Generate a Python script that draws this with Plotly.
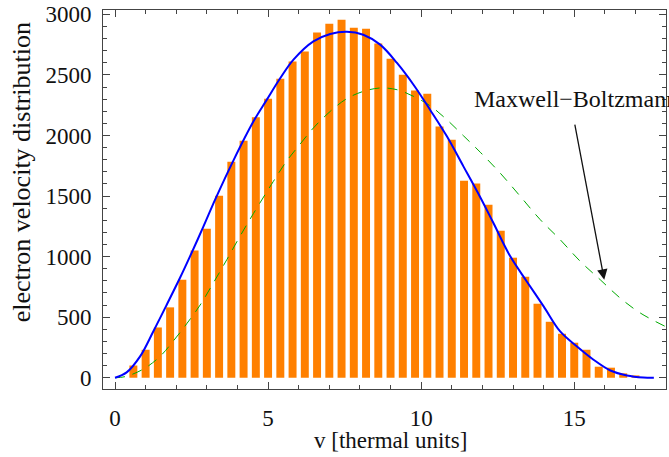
import plotly.graph_objects as go

# ---- data ----
bin_centers = [0.6, 1.0, 1.4, 1.8, 2.2, 2.6, 3.0, 3.4, 3.8, 4.2,
               4.6, 5.0, 5.4, 5.8, 6.2, 6.6, 7.0, 7.4, 7.8, 8.2,
               8.6, 9.0, 9.4, 9.8, 10.2, 10.6, 11.0, 11.4, 11.8, 12.2,
               12.6, 13.0, 13.4, 13.8, 14.2, 14.6, 15.0, 15.4, 15.8, 16.2,
               16.6, 17.0]
counts = [101, 231, 415, 581, 809, 1051, 1230, 1503, 1784, 1957,
          2150, 2304, 2469, 2610, 2694, 2851, 2923, 2956, 2890, 2882,
          2760, 2634, 2502, 2372, 2345, 2075, 1965, 1627, 1604, 1428,
          1214, 991, 834, 611, 462, 363, 289, 231, 91, 83,
          36, 19]

fit_v = [0, 0.38, 0.82, 1.25, 1.69, 2.12, 2.45, 2.89, 3.27, 3.87,
         4.52, 4.96, 5.39, 5.83, 6.48, 7.03, 7.57, 8.11, 8.66, 9.21,
         9.75, 10.29, 10.84, 11.38, 11.93, 12.36, 12.91, 13.45, 14.0, 14.54,
         15.09, 15.63, 16.18, 16.72, 17.26, 17.6]
fit_y = [0, 44, 176, 382, 603, 823, 1002, 1249, 1470, 1795,
         2115, 2296, 2470, 2626, 2777, 2838, 2857, 2832, 2750, 2599,
         2419, 2213, 1993, 1745, 1490, 1277, 1002, 795, 589, 382,
         258, 149, 60, 19, 2, 0]

mb_v = [0, 0.33, 0.93, 1.47, 1.91, 2.34, 2.78, 3.21, 3.65, 4.08,
        4.52, 5.17, 5.61, 6.05, 6.48, 7.03, 7.57, 8.11, 8.66, 9.21,
        9.75, 10.29, 10.84, 11.38, 11.93, 12.58, 13.24, 13.89, 14.54, 15.2,
        15.85, 16.5, 17.16, 17.97]
mb_y = [0, 9, 72, 176, 305, 445, 600, 782, 974, 1167,
        1355, 1620, 1790, 1930, 2062, 2199, 2304, 2364, 2392, 2378,
        2323, 2246, 2130, 1998, 1862, 1690, 1497, 1305, 1140, 960,
        809, 658, 534, 424]

x_ticks = [0, 5, 10, 15]
y_ticks = [0, 500, 1000, 1500, 2000, 2500, 3000]

label_text = "Maxwell\u2212Boltzmann"
x_title = "v [thermal units]"
y_title = "electron velocity distribution"

FONT = "Liberation Serif, Times New Roman, serif"
FRAME = "#444444"

fig = go.Figure()
fig.add_trace(go.Bar(x=bin_centers, y=counts, width=0.26,
                     marker=dict(color="#FF8000", line=dict(width=0)),
                     showlegend=False))
fig.add_trace(go.Scatter(x=mb_v, y=mb_y, mode="lines",
                         line=dict(color="#00AA00", width=1, dash="10px,8px", shape="spline"),
                         showlegend=False))
fig.add_trace(go.Scatter(x=fit_v, y=fit_y, mode="lines",
                         line=dict(color="#0000FF", width=2, shape="spline"),
                         showlegend=False))

axis_common = dict(showline=True, linecolor=FRAME, linewidth=1, mirror="allticks",
                   ticks="inside", tickcolor=FRAME, tickwidth=1, ticklen=7,
                   showgrid=False, zeroline=False, automargin=False,
                   tickfont=dict(family=FONT, size=23, color="#111111"))

fig.update_xaxes(range=[-0.392, 17.997], tickvals=x_ticks, ticklabelstandoff=8,
                 minor=dict(ticks="inside", dtick=1, tick0=0, ticklen=4,
                            tickcolor=FRAME, showgrid=False),
                 **axis_common)
fig.update_yaxes(range=[-93, 3036], tickvals=y_ticks, ticklabelstandoff=6,
                 minor=dict(ticks="inside", dtick=100, tick0=0, ticklen=4,
                            tickcolor=FRAME, showgrid=False),
                 **axis_common)

fig.add_annotation(x=11.65, y=2300, xref="x", yref="y", text=label_text,
                   showarrow=False, xanchor="left", yanchor="middle",
                   font=dict(family=FONT, size=24, color="#111111"))
fig.add_annotation(x=15.98, y=809, ax=15.01, ay=2103, xref="x", yref="y",
                   axref="x", ayref="y", text="", showarrow=True,
                   arrowhead=2, arrowsize=1.6, arrowwidth=1.3, arrowcolor="#111111")
# axis titles placed in paper coords (relative to plot area 103..666 x 10..389)
fig.add_annotation(x=(390.5 - 103) / 563, y=-0.137, xref="paper", yref="paper",
                   text=x_title, showarrow=False, xanchor="center", yanchor="middle",
                   font=dict(family=FONT, size=23, color="#111111"))
fig.add_annotation(x=-0.145, y=(389 - 172) / 379, xref="paper", yref="paper",
                   text=y_title, showarrow=False, textangle=-90,
                   xanchor="center", yanchor="middle",
                   font=dict(family=FONT, size=26, color="#111111"))

fig.update_layout(width=669, height=457,
                  margin=dict(l=103, r=3, t=10, b=68),
                  paper_bgcolor="white", plot_bgcolor="white",
                  bargap=0.3)

fig.write_html("out.html", config={"displayModeBar": False},
               post_script="document.body.style.margin='0px';document.body.style.overflow='hidden';")
